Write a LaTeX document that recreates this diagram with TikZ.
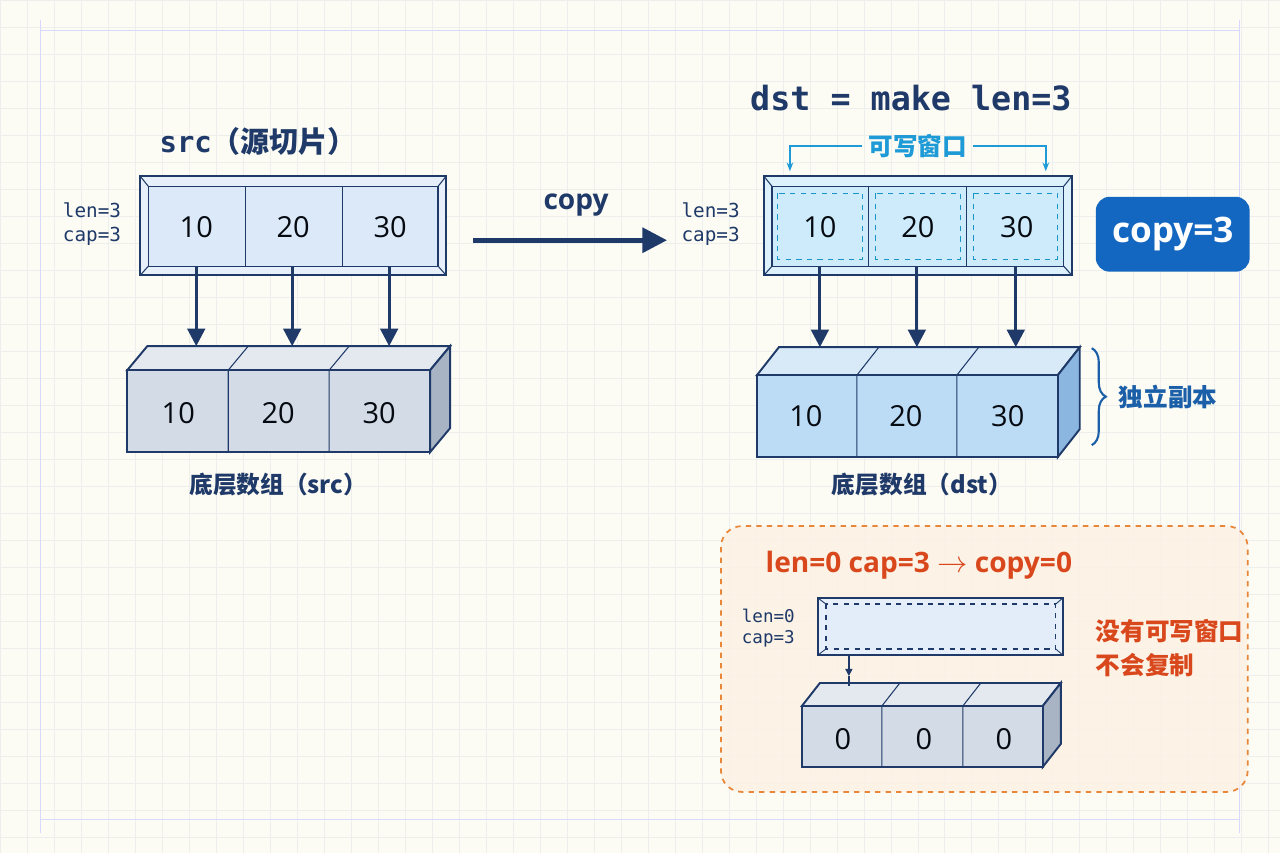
\documentclass[tikz,border=0pt]{standalone}
\usepackage{fontspec}
\setmainfont{Open Sans}
\setmonofont{DejaVu Sans Mono}
\newfontfamily\cjk{Noto Sans CJK SC}
\usetikzlibrary{arrows.meta,decorations.pathreplacing}
\definecolor{navy}{HTML}{1F3A68}
\definecolor{bgc}{HTML}{FCFBF4}
\definecolor{gridc}{HTML}{EDEFEC}
\definecolor{slicef}{HTML}{DCE9F8}
\definecolor{dslicef}{HTML}{CDEBFA}
\definecolor{arrf}{HTML}{D3DBE6}
\definecolor{arrt}{HTML}{E4E9F0}
\definecolor{arrs}{HTML}{A8B4C4}
\definecolor{darrf}{HTML}{BCDBF4}
\definecolor{darrt}{HTML}{D8E9F8}
\definecolor{darrs}{HTML}{8BB6DF}
\definecolor{lblue}{HTML}{1E9AD6}
\definecolor{mblue}{HTML}{1A5FA8}
\definecolor{cbtn}{HTML}{1467C0}
\definecolor{orng}{HTML}{D9481C}
\definecolor{obord}{HTML}{E8873A}
\definecolor{ofill}{HTML}{FDF1E4}
\begin{document}
\begin{tikzpicture}[x=0.02cm,y=-0.02cm,
  edge/.style={draw=navy,line width=1.1pt},
  down/.style={navy,line width=1.8pt,-{Triangle[length=10pt,width=10pt]}},
  num/.style={font=\fontsize{16.5}{18}\selectfont,text=black!85!navy},
  mono/.style={font=\ttfamily\fontsize{11}{14}\selectfont,text=navy,align=right,anchor=east},
  lbl/.style={font=\cjk\bfseries\fontsize{13.5}{16}\selectfont,text=navy}]
\fill[bgc] (0,0) rectangle (1280,853);
\foreach \i in {0,27,...,1280} \draw[gridc,line width=0.4pt] (\i,0) -- (\i,853);
\foreach \i in {0,27,...,853} \draw[gridc,line width=0.4pt] (0,\i) -- (1280,\i);
\draw[blue!15,line width=0.5pt] (40,30) -- (1240,30) (40,820) -- (1240,820) (40,20) -- (40,833) (1240,20) -- (1240,833);
\useasboundingbox (0,0) rectangle (1280,853);

% ---------- src slice ----------
\node[font=\fontsize{16.5}{18}\selectfont,text=navy] (srct) at (258,141) {\ttfamily\bfseries src\cjk\bfseries（源切片）};
\fill[slicef!70!white,edge] (140,176) rectangle (446,275);
\draw[navy,line width=0.6pt] (140,176)--(148,186) (446,176)--(438,186) (140,275)--(148,266) (446,275)--(438,266);
\draw[fill=slicef,edge,line width=0.8pt] (148,186) rectangle (438,266);
\draw[navy,line width=0.6pt] (245,186)--(245,266) (342,186)--(342,266);
\node[num] (s1) at (196,227) {10};
\node[num] (s2) at (293,227) {20};
\node[num] (s3) at (390,227) {30};
\node[mono] (slc) at (127,224) {len=3\\cap=3};

% ---------- src array ----------
\fill[arrt,edge] (127,370) -- (147,346) -- (450,346) -- (430,370) -- cycle;
\fill[arrs,edge] (430,370) -- (450,346) -- (450,428) -- (430,452) -- cycle;
\fill[arrf,edge] (127,370) rectangle (430,452);
\draw[navy,line width=0.6pt] (228,370)--(228,452) (329,370)--(329,452) (228,370)--(248,346) (329,370)--(349,346);
\node[num] (a1) at (178,413) {10};
\node[num] (a2) at (278,413) {20};
\node[num] (a3) at (379,413) {30};
\coordinate (at1) at (196,346); \coordinate (at2) at (292,346); \coordinate (at3) at (389,346);
\draw[down] (196,266) -- (at1);
\draw[down] (292,266) -- (at2);
\draw[down] (389,266) -- (at3);
\node[lbl] (srcl) at (278,484) {底层数组（src）};

% ---------- copy arrow ----------
\coordinate (cpA) at (473,240); \coordinate (cpB) at (667,240);
\draw[navy,line width=2.6pt,-{Triangle[length=14pt,width=14pt]}] (cpA) -- (cpB);
\node[font=\bfseries\fontsize{16}{18}\selectfont,text=navy] (cpl) at (576,205) {copy};

% ---------- dst slice ----------
\node[font=\ttfamily\bfseries\fontsize{19}{22}\selectfont,text=navy] (dstt) at (911,98) {dst = make len=3};
\node[font=\cjk\bfseries\fontsize{14}{16}\selectfont,text=lblue] (win) at (918,146) {可写窗口};
\coordinate (wl) at (790,171); \coordinate (wr) at (1046,171);
\draw[lblue,line width=0.9pt,-{Stealth[length=5pt]}] (win.west) -- (790,146) -- (wl);
\draw[lblue,line width=0.9pt,-{Stealth[length=5pt]}] (win.east) -- (1046,146) -- (wr);
\fill[dslicef!70!white,edge] (764,176) rectangle (1072,275);
\draw[navy,line width=0.6pt] (764,176)--(772,186) (1072,176)--(1064,186) (764,275)--(772,266) (1072,275)--(1064,266);
\draw[fill=dslicef,edge,line width=0.8pt] (772,186) rectangle (1064,266);
\draw[navy,line width=0.6pt] (869,186)--(869,266) (967,186)--(967,266);
\foreach \a/\b in {778/863,876/961,974/1058}
  \draw[lblue!80!teal,dashed,line width=0.6pt] (\a,193) rectangle (\b,259);
\node[num] (d1) at (820,227) {10};
\node[num] (d2) at (918,227) {20};
\node[num] (d3) at (1017,227) {30};
\node[mono] (dlc) at (746,224) {len=3\\cap=3};
\node[fill=cbtn,rounded corners=8pt,minimum width=3.08cm,minimum height=1.5cm,text=white,font=\bfseries\fontsize{20}{24}\selectfont] (c3) at (1173,234) {copy=3};

% ---------- dst array ----------
\fill[darrt,edge] (757,375) -- (779,347) -- (1080,347) -- (1058,375) -- cycle;
\fill[darrs,edge] (1058,375) -- (1080,347) -- (1080,429) -- (1058,457) -- cycle;
\fill[darrf,edge] (757,375) rectangle (1058,457);
\draw[navy,line width=0.6pt] (857,375)--(857,457) (957,375)--(957,457) (857,375)--(879,347) (957,375)--(979,347);
\node[num] (b1) at (806,416) {10};
\node[num] (b2) at (906,416) {20};
\node[num] (b3) at (1008,416) {30};
\coordinate (bt1) at (820,347); \coordinate (bt2) at (917,347); \coordinate (bt3) at (1016,347);
\draw[down] (820,266) -- (bt1);
\draw[down] (917,266) -- (bt2);
\draw[down] (1016,266) -- (bt3);
\draw[mblue,line width=1.2pt,decorate,decoration={brace,amplitude=8pt}] (1092,348) -- (1092,445);
\node[font=\cjk\bfseries\fontsize{14}{16}\selectfont,text=mblue,anchor=west] (indep) at (1113,397) {独立副本};
\node[lbl] (dstl) at (922,484) {底层数组（dst）};

% ---------- len=0 case ----------
\draw[obord,dashed,line width=1pt,fill=ofill,fill opacity=0.85,rounded corners=12pt] (721,526) rectangle (1248,792);
\node[font=\bfseries\fontsize{16}{18}\selectfont,text=orng] (zt) at (919,565) {len=0 cap=3 $\rightarrow$ copy=0};
\fill[slicef!70!white,edge,line width=0.9pt] (818,598) rectangle (1063,655);
\draw[navy,line width=0.5pt] (818,598)--(826,604) (1063,598)--(1056,604) (818,655)--(826,649) (1063,655)--(1056,649);
\draw[fill=slicef!80!white,draw=navy,dashed,line width=0.7pt] (826,604) rectangle (1056,649);
\node[mono,font=\ttfamily\fontsize{10}{12}\selectfont] (zlc) at (801,628) {len=0\\cap=3};
\fill[arrt,edge] (802,706) -- (820,683) -- (1061,683) -- (1043,706) -- cycle;
\fill[arrs,edge] (1043,706) -- (1061,683) -- (1061,744) -- (1043,767) -- cycle;
\fill[arrf,edge] (802,706) rectangle (1043,767);
\draw[navy,line width=0.6pt] (882,706)--(882,767) (963,706)--(963,767) (882,706)--(900,683) (963,706)--(981,683);
\node[num] (z1) at (843,739) {0};
\node[num] (z2) at (924,739) {0};
\node[num] (z3) at (1004,739) {0};
\coordinate (zt1) at (849,686);
\draw[navy,line width=0.8pt] (849,655) -- (849,665);
\draw[navy,line width=0.8pt,dashed,-{Triangle[length=4pt,width=4pt]}] (849,665) -- (849,676);
\draw[navy,line width=0.8pt] (849,676) -- (zt1);
\node[font=\cjk\bfseries\fontsize{14}{19}\selectfont,text=orng,align=left,anchor=west] (nowin) at (1090,648) {没有可写窗口\\不会复制};
\end{tikzpicture}
\end{document}
